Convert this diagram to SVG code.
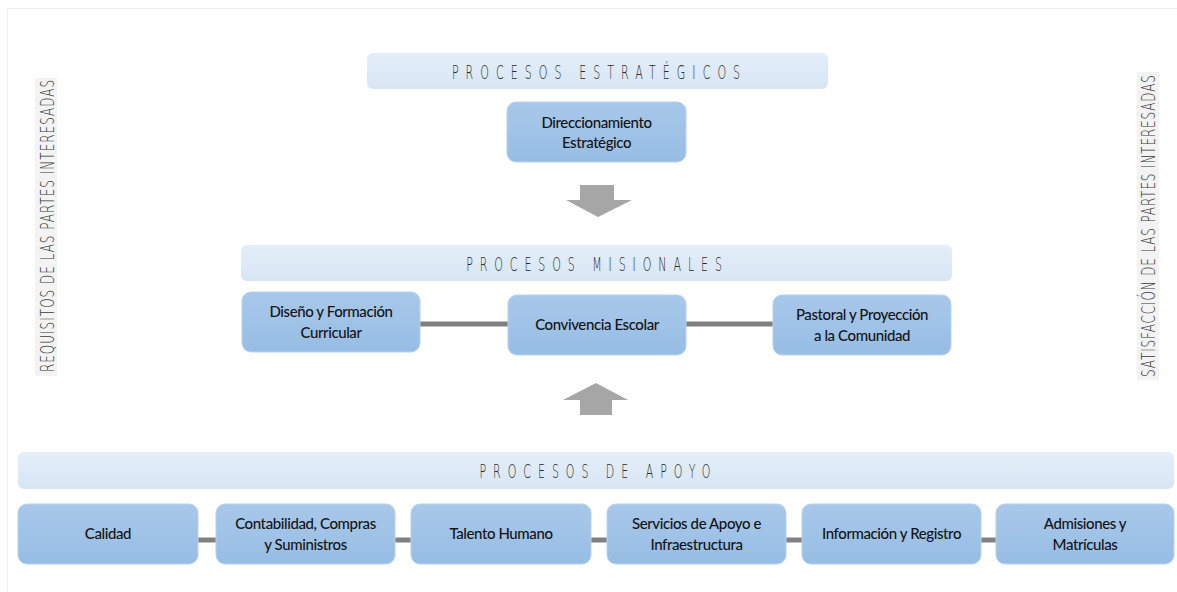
<svg xmlns="http://www.w3.org/2000/svg" width="1177" height="592" viewBox="0 0 1177 592">
<defs>
<linearGradient id="gNode" x1="0" y1="0" x2="0" y2="1"><stop offset="0" stop-color="#a8c8ea"/><stop offset="1" stop-color="#97bde4"/></linearGradient>
<linearGradient id="gBan" x1="0" y1="0" x2="0" y2="1"><stop offset="0" stop-color="#e4eef9"/><stop offset="1" stop-color="#d7e5f4"/></linearGradient>
</defs>
<style>
.node{fill:url(#gNode);stroke:#b7d2ee;stroke-width:1}
.ban{fill:url(#gBan)}
.t{font-family:Lato,"Open Sans","Liberation Sans",sans-serif;font-size:15px;font-weight:500;fill:#141414;text-anchor:middle;letter-spacing:-0.4px}
.bt{font-family:"DejaVu Sans",sans-serif;font-weight:300;font-size:20px;fill:#2a2a2a;text-anchor:middle}
.side{font-family:"DejaVu Sans",sans-serif;font-weight:300;font-size:20px;fill:#3a3a3a;text-anchor:middle}
.con{stroke:#808080;stroke-width:5;fill:none}
.arr{fill:#a6a6a6}
</style>
<rect x="0" y="0" width="1177" height="592" fill="#ffffff"/>
<rect x="7.5" y="8.5" width="1170" height="590" fill="none" stroke="#eeeeee"/>

<g id="side-left">
<rect x="35" y="78" width="22" height="298" fill="#f3f3f3"/>
<text class="side" transform="translate(53.5,226) rotate(-90) scale(0.6,1)" textLength="487" lengthAdjust="spacing">REQUISITOS DE LAS PARTES INTERESADAS</text>
</g>
<g id="side-right">
<rect x="1137" y="72" width="22" height="308" fill="#f3f3f3"/>
<text class="side" transform="translate(1154.5,226) rotate(-90) scale(0.6,1)" textLength="503" lengthAdjust="spacing">SATISFACCIÓN DE LAS PARTES INTERESADAS</text>
</g>

<g id="connectors">
<line class="con" x1="420" y1="324" x2="508" y2="324"/>
<line class="con" x1="686" y1="324" x2="773" y2="324"/>
<line class="con" x1="198" y1="540" x2="216" y2="540"/>
<line class="con" x1="395" y1="540" x2="411" y2="540"/>
<line class="con" x1="591" y1="540" x2="607" y2="540"/>
<line class="con" x1="786" y1="540" x2="802" y2="540"/>
<line class="con" x1="981" y1="540" x2="996" y2="540"/>
<polygon class="arr" points="580,185 614,185 614,200 632,200 598,217 566,200 580,200"/>
<polygon class="arr" points="596,383 628,400 612,400 612,415 580,415 580,400 563,400"/>
</g>

<g id="banner-estrategicos">
<rect class="ban" x="367" y="53" width="461" height="36" rx="6"/>
<text class="bt" transform="translate(596,78.5) scale(0.55,1)" textLength="524" lengthAdjust="spacing">PROCESOS  ESTRATÉGICOS</text>
</g>
<g id="n-direccionamiento">
<rect class="node" x="507" y="102" width="179" height="60" rx="9"/>
<text class="t" x="596.5" y="128">Direccionamiento</text>
<text class="t" x="596.5" y="148">Estratégico</text>
</g>

<g id="banner-misionales">
<rect class="ban" x="241" y="245" width="711" height="36" rx="6"/>
<text class="bt" transform="translate(594,270.5) scale(0.55,1)" textLength="465" lengthAdjust="spacing">PROCESOS  MISIONALES</text>
</g>
<g id="n-diseno">
<rect class="node" x="242" y="292" width="178" height="60" rx="9"/>
<text class="t" x="331" y="317">Diseño y Formación</text>
<text class="t" x="331" y="338">Curricular</text>
</g>
<g id="n-convivencia">
<rect class="node" x="508" y="295" width="178" height="60" rx="9"/>
<text class="t" x="597" y="330">Convivencia Escolar</text>
</g>
<g id="n-pastoral">
<rect class="node" x="773" y="295" width="178" height="60" rx="9"/>
<text class="t" x="862" y="320">Pastoral y Proyección</text>
<text class="t" x="862" y="341">a la Comunidad</text>
</g>

<g id="banner-apoyo">
<rect class="ban" x="18" y="452" width="1156" height="37" rx="6"/>
<text class="bt" transform="translate(595,477.5) scale(0.55,1)" textLength="420" lengthAdjust="spacing">PROCESOS  DE  APOYO</text>
</g>
<g id="n-calidad">
<rect class="node" x="18" y="504" width="180" height="60" rx="9"/>
<text class="t" x="108" y="539">Calidad</text>
</g>
<g id="n-contabilidad">
<rect class="node" x="216" y="504" width="179" height="60" rx="9"/>
<text class="t" x="305.5" y="529">Contabilidad, Compras</text>
<text class="t" x="305.5" y="550">y Suministros</text>
</g>
<g id="n-talento">
<rect class="node" x="411" y="504" width="180" height="60" rx="9"/>
<text class="t" x="501" y="539">Talento Humano</text>
</g>
<g id="n-servicios">
<rect class="node" x="607" y="504" width="179" height="60" rx="9"/>
<text class="t" x="696.5" y="529">Servicios de Apoyo e</text>
<text class="t" x="696.5" y="550">Infraestructura</text>
</g>
<g id="n-informacion">
<rect class="node" x="802" y="504" width="179" height="60" rx="9"/>
<text class="t" x="891.5" y="539">Información y Registro</text>
</g>
<g id="n-admisiones">
<rect class="node" x="996" y="504" width="178" height="60" rx="9"/>
<text class="t" x="1085" y="529">Admisiones y</text>
<text class="t" x="1085" y="550">Matrículas</text>
</g>
</svg>
